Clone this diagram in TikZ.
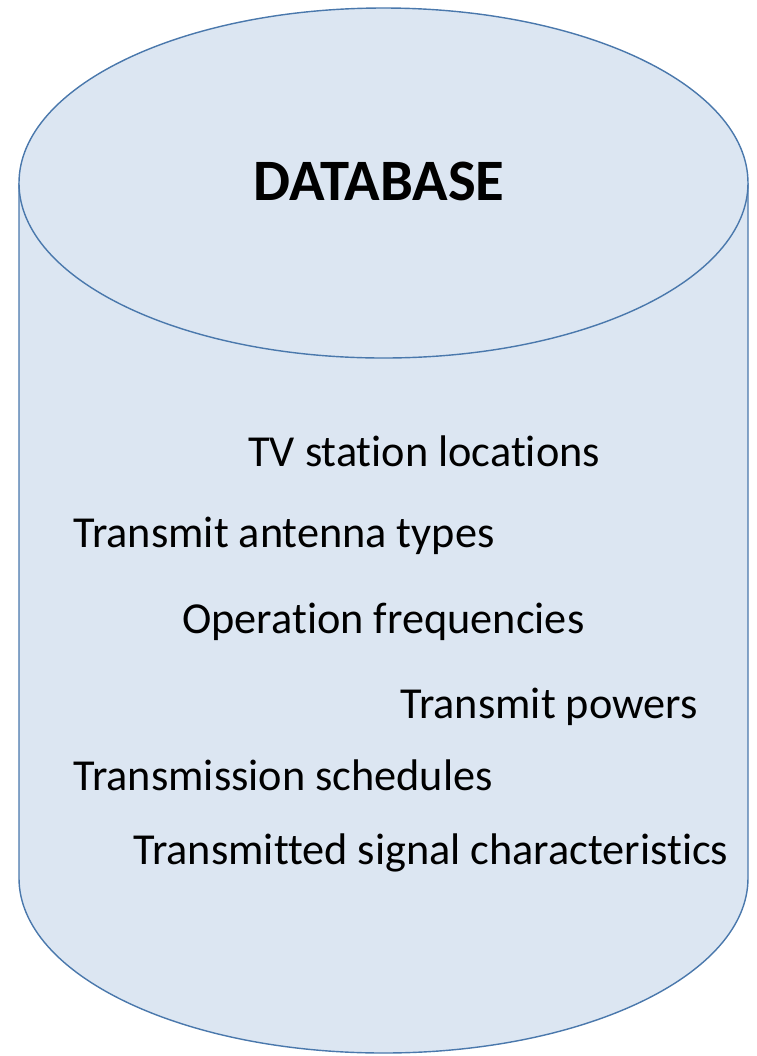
\documentclass[tikz,border=0pt]{standalone}
\usepackage{fontspec}
\setmainfont{Carlito}[RawFeature=-liga]
\usetikzlibrary{positioning}
\definecolor{dbfill}{HTML}{DCE6F2}
\definecolor{dbline}{HTML}{4A78AC}
\tikzset{dbshape/.style={fill=dbfill, draw=dbline, line width=0.8pt},
	dbitem/.style={anchor=base west, inner sep=0pt, font=\fontsize{25.2}{28}\selectfont},
	dbtitle/.style={font=\fontsize{33.4}{36}\selectfont\bfseries}}
\newcommand{\dbbody}{\draw[dbshape] (19,183) -- (19,878) arc[start angle=180, end angle=0, x radius=364.5, y radius=175] -- (748,183);
					\draw[dbshape] (383.5,183) ellipse[x radius=364.5, y radius=175];}

\begin{document}
\begin{tikzpicture}[x=0.02cm, y=-0.02cm]
					\useasboundingbox (0,0) rectangle (757,1056);
					
					\dbbody
					
					\node[dbtitle] (title) at (379,181) {DATABASE};
					
					\node[dbitem] (locations) at (248,466) {TV station locations};
					\node[dbitem] (antenna) at (73,547) {Transmit antenna types};
					\node[dbitem] (frequencies) at (182,633) {Operation frequencies};
					\node[dbitem] (powers) at (400,718) {Transmit powers};
					\node[dbitem] (schedules) at (73,790) {Transmission schedules};
					\node[dbitem] (signal) at (133,864) {Transmitted signal characteristics};
					
				\end{tikzpicture}
\end{document}
